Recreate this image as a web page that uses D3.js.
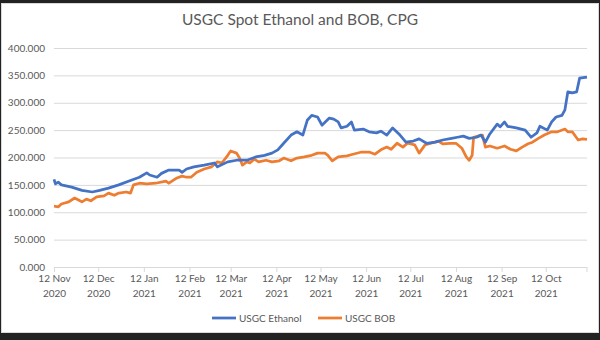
<!DOCTYPE html>
<html>
<head>
<meta charset="utf-8">
<script src="https://cdn.jsdelivr.net/npm/d3@7"></script>
<style>
  html, body { margin: 0; padding: 0; background: #222; }
  svg { display: block; }
  text { font-family: Lato, "Open Sans", sans-serif; fill: #595959; }
</style>
</head>
<body>
<svg id="chart" width="600" height="340"></svg>
<script>
const title = "USGC Spot Ethanol and BOB, CPG";
const seriesNames = ["USGC Ethanol", "USGC BOB"];
const seriesColors = ["#4472C4", "#ED7D31"];
const yTicks = [0, 50, 100, 150, 200, 250, 300, 350, 400];
const xTickDates = ["2020-11-12","2020-12-12","2021-01-12","2021-02-12","2021-03-12","2021-04-12",
  "2021-05-12","2021-06-12","2021-07-12","2021-08-12","2021-09-12","2021-10-12"];

const ethanolDates = ["2020-11-12","2020-11-13","2020-11-15","2020-11-17","2020-11-24","2020-12-01","2020-12-08","2020-12-13",
  "2020-12-19","2020-12-26","2021-01-02","2021-01-09","2021-01-14","2021-01-16","2021-01-21","2021-01-24",
  "2021-01-29","2021-02-05","2021-02-07","2021-02-10","2021-02-15","2021-02-22","2021-03-01","2021-03-03",
  "2021-03-10","2021-03-16","2021-03-23","2021-03-29","2021-04-04","2021-04-09","2021-04-13","2021-04-17",
  "2021-04-22","2021-04-26","2021-04-30","2021-05-03","2021-05-06","2021-05-10","2021-05-13","2021-05-18",
  "2021-05-21","2021-05-24","2021-05-26","2021-05-30","2021-06-02","2021-06-04","2021-06-10","2021-06-14",
  "2021-06-19","2021-06-22","2021-06-26","2021-06-30","2021-07-05","2021-07-09","2021-07-14","2021-07-18",
  "2021-07-23","2021-07-29","2021-08-03","2021-08-09","2021-08-13","2021-08-17","2021-08-21","2021-08-26",
  "2021-08-29","2021-09-01","2021-09-04","2021-09-09","2021-09-11","2021-09-14","2021-09-16","2021-09-22",
  "2021-09-28","2021-10-02","2021-10-06","2021-10-08","2021-10-13","2021-10-16","2021-10-19","2021-10-23",
  "2021-10-25","2021-10-27","2021-10-30","2021-11-02","2021-11-04","2021-11-09"];
const ethanolValues = [160,152,155,150,146,140,137,140,144,150,157,164,172,168,164,171,
  177,177,173,179,183,186,190,183,192,195,195,201,204,208,214,226,
  241,247,241,268,277,274,259,272,270,265,254,257,265,250,252,247,
  245,248,241,254,241,228,230,234,226,228,232,235,237,239,235,237,
  241,228,243,261,256,265,257,254,250,237,245,257,250,265,274,277,
  287,320,318,320,345,347];

const bobDates = ["2020-11-12","2020-11-15","2020-11-17","2020-11-22","2020-11-26","2020-11-29","2020-12-01",
  "2020-12-04","2020-12-07","2020-12-11","2020-12-16","2020-12-19","2020-12-23","2020-12-26","2020-12-31",
  "2021-01-03","2021-01-05","2021-01-09","2021-01-14","2021-01-20","2021-01-27","2021-01-29","2021-02-03",
  "2021-02-07","2021-02-10","2021-02-13","2021-02-17","2021-02-22","2021-02-27","2021-03-03","2021-03-06",
  "2021-03-10","2021-03-12","2021-03-16","2021-03-18","2021-03-20","2021-03-23","2021-03-25","2021-03-28",
  "2021-03-31","2021-04-05","2021-04-09","2021-04-14","2021-04-17","2021-04-22","2021-04-26","2021-05-01",
  "2021-05-06","2021-05-10","2021-05-15","2021-05-17","2021-05-20","2021-05-24","2021-05-30","2021-06-03",
  "2021-06-09","2021-06-14","2021-06-18","2021-06-22","2021-06-26","2021-06-29","2021-07-03","2021-07-07",
  "2021-07-10","2021-07-15","2021-07-18","2021-07-22","2021-07-26","2021-07-31","2021-08-03","2021-08-08",
  "2021-08-12","2021-08-16","2021-08-19","2021-08-21","2021-08-23","2021-08-24","2021-08-27","2021-08-30",
  "2021-09-01","2021-09-04","2021-09-09","2021-09-14","2021-09-18","2021-09-22","2021-09-26","2021-09-30",
  "2021-10-03","2021-10-07","2021-10-11","2021-10-16","2021-10-20","2021-10-25","2021-10-27","2021-10-30",
  "2021-11-03","2021-11-06","2021-11-09"];
const bobValues = [111,110,115,119,126,122,119,124,121,128,130,135,131,135,137,
  135,150,153,152,153,157,153,162,166,164,164,173,179,183,192,190,
  204,212,208,199,186,192,190,197,192,195,192,194,199,194,199,201,
  204,208,208,204,194,201,203,206,210,210,206,214,219,215,226,219,
  226,223,208,223,226,230,225,226,226,217,201,195,204,237,239,241,
  219,221,217,221,215,212,219,225,228,235,241,247,247,252,247,247,
  232,234,233];

const parse = d3.timeParse("%Y-%m-%d");
const svg = d3.select("#chart");

// frame
svg.append("rect").attr("x", 0).attr("y", 0).attr("width", 600).attr("height", 340).attr("fill", "#222");
svg.append("rect").attr("x", 1.5).attr("y", 3.5).attr("width", 597).attr("height", 329)
  .attr("fill", "#fff").attr("stroke", "#d9d9d9");

const plotLeft = 54, plotRight = 587, plotTop = 48, plotBottom = 267;
const x = d3.scaleTime().domain([parse(ethanolDates[0]), parse(ethanolDates[ethanolDates.length - 1])]).range([plotLeft, plotRight]);
const y = d3.scaleLinear().domain([0, 400]).range([plotBottom, plotTop]);

svg.append("text").attr("x", 300).attr("y", 25).attr("text-anchor", "middle")
  .style("font-size", "15.5px").text(title);

// gridlines + y labels
const yAxis = d3.axisLeft(y).tickValues(yTicks).tickSize(-(plotRight - plotLeft)).tickPadding(9)
  .tickFormat(d3.format(".3f"));
const gy = svg.append("g").attr("transform", `translate(${plotLeft},0)`).call(yAxis);
gy.select(".domain").remove();
gy.selectAll(".tick line").attr("stroke", "#d9d9d9").attr("stroke-width", 1);
gy.selectAll(".tick text").style("font-size", "10px").attr("fill", "#595959");

// x axis
const xAxis = d3.axisBottom(x).tickValues(xTickDates.map(parse)).tickSize(5).tickFormat("");
const gx = svg.append("g").attr("transform", `translate(0,${plotBottom})`).call(xAxis);
gx.select(".domain").attr("stroke", "#d9d9d9").attr("d", `M${plotLeft},0.5H${plotRight}`);
gx.selectAll(".tick line").attr("stroke", "#d9d9d9");
gx.append("line").attr("x1", plotRight).attr("x2", plotRight).attr("y1", 0).attr("y2", 5).attr("stroke", "#d9d9d9");
const fmt1 = d3.timeFormat("%d %b"), fmt2 = d3.timeFormat("%Y");
gx.selectAll(".tick").each(function(d) {
  const t = d3.select(this).append("text").attr("text-anchor", "middle").style("font-size", "10px").attr("fill", "#595959");
  t.append("tspan").attr("x", 0).attr("y", 15).text(fmt1(d));
  t.append("tspan").attr("x", 0).attr("y", 30).text(fmt2(d));
});

// lines
const line = d3.line().x(d => x(d[0])).y(d => y(d[1]));
const series = [
  ethanolDates.map((d, i) => [parse(d), ethanolValues[i]]),
  bobDates.map((d, i) => [parse(d), bobValues[i]])
];
[1, 0].forEach(i => {
  svg.append("path").datum(series[i]).attr("fill", "none").attr("stroke", seriesColors[i])
    .attr("stroke-width", 2.75).attr("stroke-linejoin", "round").attr("d", line);
});

// legend
const legendX = [212, 318];
seriesNames.forEach((n, i) => {
  const g = svg.append("g").attr("transform", `translate(${legendX[i]},318)`);
  g.append("line").attr("x1", 0).attr("x2", 24).attr("y1", 0).attr("y2", 0)
    .attr("stroke", seriesColors[i]).attr("stroke-width", 2.75);
  g.append("text").attr("x", 27).attr("y", 3.5).style("font-size", "10px").text(n);
});
</script>
</body>
</html>
